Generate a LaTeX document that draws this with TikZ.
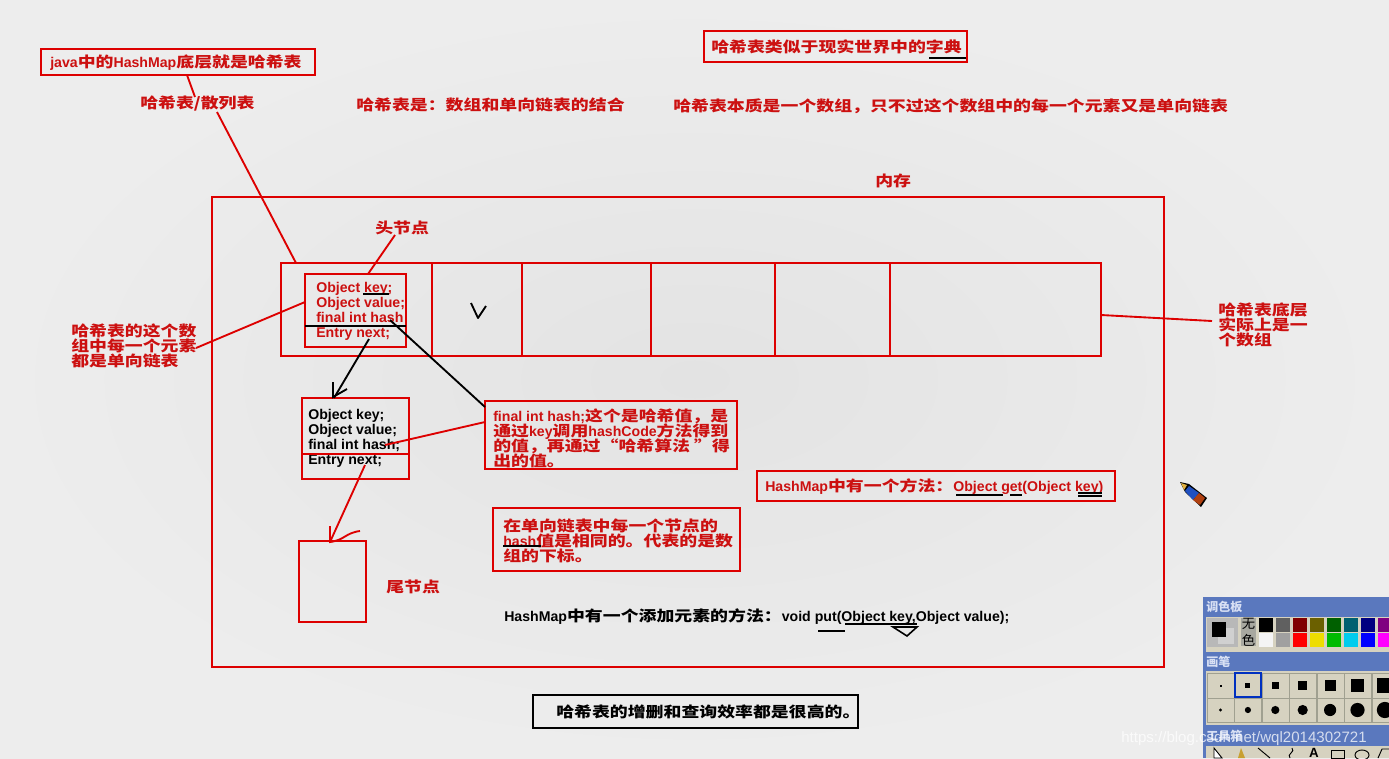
\documentclass[tikz,border=0pt]{standalone}
\usepackage{fontspec}
\setmainfont{Liberation Sans}
\newfontfamily\cjkf[FakeStretch=1.22]{Noto Sans CJK SC}
\newfontfamily\cjkp{Noto Sans CJK SC}
\AtBeginDocument{\lineskiplimit=-8pt\relax}
\newcommand{\cn}[1]{{\cjkf\bfseries\fontsize{11pt}{11.3pt}\selectfont #1}}
\newcommand{\boxn}[6]{\node[#1,minimum width={(#5-#3)*0.75pt},minimum height={(#6-#4)*0.75pt}] (#2) at ({(#3+#5)/2},{(#4+#6)/2}) {};}
\definecolor{rd}{HTML}{DD0000}
\definecolor{rdt}{HTML}{CC1010}
\definecolor{barblue}{HTML}{5A78BE}
\definecolor{panelg}{HTML}{D6D2C0}
\definecolor{bgin}{HTML}{E3E3E3}
\definecolor{bgout}{HTML}{EDEDED}
\definecolor{penb}{HTML}{2050C0}
\definecolor{penc}{HTML}{B04010}
\definecolor{pend}{HTML}{E0B040}
\definecolor{barfg}{HTML}{D8E0F4}
\definecolor{wella}{HTML}{B8B8B8}
\definecolor{wellb}{HTML}{D0D0D0}
\definecolor{wuc}{HTML}{A8A8A0}
\definecolor{gridc}{HTML}{A0A090}
\definecolor{selc}{HTML}{0030C0}
\definecolor{tipc}{HTML}{C8A030}
\tikzset{
  rbox/.style={draw=rd,line width=1.5pt,inner sep=0pt},
  kbox/.style={draw=black,line width=1.5pt,inner sep=0pt},
  rtext/.style={text=rdt,anchor=west,inner sep=0pt,align=left,font=\bfseries\fontsize{10.6pt}{11.3pt}\selectfont},
  ktext/.style={rtext,text=black},
  rline/.style={draw=rd,line width=1.4pt},
  kline/.style={draw=black,line width=1.4pt},
  ul/.style={draw=black,line width=1.3pt},
  bartext/.style={anchor=west,inner sep=0pt,text=barfg,font=\cjkp\bfseries\fontsize{9pt}{10pt}\selectfont},
}
\begin{document}
\begin{tikzpicture}[x=0.75pt,y=-0.75pt]
\useasboundingbox (0,0) rectangle (1389,758);
\shade[inner color=bgin,outer color=bgout] (0,0) rectangle (1389,758);
% boxes
\boxn{rbox}{mem}{212}{197}{1164}{667}
\boxn{rbox}{javabox}{41}{49}{315}{75}
\boxn{rbox}{dictbox}{704}{31}{967}{62}
\boxn{rbox}{c1}{281}{263}{432}{356}
\boxn{rbox}{c2}{432}{263}{522}{356}
\boxn{rbox}{c3}{522}{263}{651}{356}
\boxn{rbox}{c4}{651}{263}{775}{356}
\boxn{rbox}{c5}{775}{263}{890}{356}
\boxn{rbox}{c6}{890}{263}{1101}{356}
\boxn{rbox}{n1}{305}{274}{406}{347}
\boxn{rbox}{n2}{302}{398}{409}{479}
\boxn{rbox}{n3}{299}{541}{366}{622}
\boxn{rbox}{hashbox}{485}{401}{737}{469}
\boxn{rbox}{samebox}{493}{508}{740}{571}
\boxn{rbox}{getbox}{757}{471}{1115}{501}
\boxn{kbox}{effbox}{533}{695}{858}{728}
% texts
\node[rtext] (tjava) at (50,63) {java\cn{中的}HashMap\cn{底层就是哈希表}};
\node[rtext] (tdict) at (711,47) {\cn{哈希表类似于现实世界中的字典}};
\node[rtext] (tsan) at (140,104) {\cn{哈希表/散列表}};
\node[rtext] (tjie) at (356,105) {\cn{哈希表是：数组和单向链表的结合}};
\node[rtext] (tben) at (673,106) {\cn{哈希表本质是一个数组，只不过这个数组中的每一个元素又是单向链表}};
\node[rtext] (tmem) at (875,181) {\cn{内存}};
\node[rtext] (thead) at (375,228) {\cn{头节点}};
\node[rtext] (ttail) at (386,587) {\cn{尾节点}};
\node[rtext] (tleft) at (71,346) {\cn{哈希表的这个数}\\\cn{组中每一个元素}\\\cn{都是单向链表}};
\node[rtext] (tright) at (1218,325) {\cn{哈希表底层}\\\cn{实际上是一}\\\cn{个数组}};
\node[rtext] (tn1) at (316,311) {Object key;\\Object value;\\final int hash\\Entry next;};
\node[ktext] (tn2) at (308,438) {Object key;\\Object value;\\final int hash;\\Entry next;};
\node[rtext] (thash) at (493,438) {final int hash;\cn{这个是哈希值，是}\\\cn{通过}key\cn{调用}hashCode\cn{方法得到}\\\cn{的值，再通过“哈希算法 ”得}\\\cn{出的值。}};
\node[rtext] (tsame) at (503,541) {\cn{在单向链表中每一个节点的}\\hash\cn{值是相同的。代表的是数}\\\cn{组的下标。}};
\node[rtext] (tget) at (765,487) {HashMap\cn{中有一个方法：}Object get(Object key)};
\node[ktext] (tput) at (504,617) {HashMap\cn{中有一个添加元素的方法：}void put(Object key,Object value);};
\node[ktext] (teff) at (556,712) {\cn{哈希表的增删和查询效率都是很高的。}};
% connectors
\coordinate (a1) at (187,75); \coordinate (a2) at (195,97);
\coordinate (a3) at (217,112); \coordinate (a4) at (296,263);
\draw[rline] (a1) -- (a2);
\draw[rline] (a3) -- (a4);
\coordinate (h1) at (395,235); \coordinate (h2) at (368,274);
\draw[rline] (h1) -- (h2);
\coordinate (l1) at (305,302); \coordinate (l2) at (196,348);
\draw[rline] (l1) -- (l2);
\coordinate (r1) at (1101,315); \coordinate (r2) at (1212,321);
\draw[rline] (r1) -- (r2);
\coordinate (k1) at (369,339); \coordinate (k2) at (334,398);
\draw[kline] (k1) -- (k2);
\draw[kline] (333,382) -- (333,397) -- (347,389);
\coordinate (b1) at (390,320); \coordinate (b2) at (485,407);
\draw[kline] (b1) -- (b2);
\coordinate (d1) at (385,445); \coordinate (d2) at (485,422);
\draw[rline] (d1) -- (d2);
\coordinate (e1) at (365,465); \coordinate (e2) at (330,542);
\draw[rline] (e1) -- (e2);
\draw[rline] (330,526) -- (330,542) .. controls (345,540) and (345,533) .. (360,531);
% hand marks
\draw[kline,line join=round] (471,303) -- (478,318) -- (486,306);
\draw[kline] (305,326) -- (406,326);
\draw[rline] (302,454) -- (409,454);
\draw[ul] (363,294) -- (389,294);
\draw[ul] (929,58) -- (966,58);
\draw[ul] (503,546) -- (541,546);
\draw[ul] (956,495) -- (1003,495);
\draw[ul] (1010,495) -- (1022,495);
\draw[ul] (1078,493) -- (1102,493);
\draw[ul] (1078,496) -- (1102,496);
\draw[ul] (818,631) -- (845,631);
\draw[ul] (845,624) -- (917,624);
\draw[black,line width=1.2pt] (893,627) -- (917,627) -- (907,636) -- cycle;
% pencil
\fill[black] (1180,482) -- (1189,484) -- (1207,498) -- (1201,507) -- (1185,492) -- cycle;
\fill[penb] (1189,486) -- (1199,493) -- (1193,500) -- (1185,491) -- cycle;
\fill[penc] (1199,493) -- (1205,498) -- (1200,505) -- (1193,500) -- cycle;
\fill[pend] (1181,483) -- (1187,485) -- (1184,490) -- cycle;
% palette panel
\fill[panelg] (1203,597) rectangle (1389,758);
\fill[barblue] (1203,597) rectangle (1389,617);
\fill[barblue] (1203,652) rectangle (1389,671);
\fill[barblue] (1203,725) rectangle (1389,746);
\fill[barblue] (1203,597) rectangle (1206,758);
\node[bartext] (tpal) at (1206,607) {调色板};
\node[bartext] (tbrush) at (1206,662) {画笔};
\node[bartext] (ttool) at (1206,736) {工具箱};
\fill[wella] (1207,618) rectangle (1238,647);
\fill[wellb] (1218,628) rectangle (1234,644);
\fill[black] (1212,622) rectangle (1226,637);
\fill[wuc] (1241,618) rectangle (1256,646);
\node[anchor=center,inner sep=0pt,align=center,text=black,font=\cjkp\fontsize{10pt}{13pt}\selectfont] (twu) at (1248.5,632) {无\\色};
\foreach \cc [count=\i from 0] in {000000,606060,800000,6B6000,006000,006070,000080,800080}{
  \definecolor{tmpc}{HTML}{\cc}
  \fill[tmpc] ({1259+17*\i},618) rectangle ({1273+17*\i},632);
}
\foreach \cc [count=\i from 0] in {F4F4F4,A0A0A0,FF0000,EEDD00,00BB00,00CCEE,0000FF,FF00FF}{
  \definecolor{tmpc}{HTML}{\cc}
  \fill[tmpc] ({1259+17*\i},633) rectangle ({1273+17*\i},647);
}
% brush grid
\foreach \xx in {1207,1234,1262,1289,1317,1344,1372}{
  \draw[gridc,line width=0.6pt] (\xx,673) rectangle ++(27,25);
  \draw[gridc,line width=0.6pt] (\xx,698) rectangle ++(27,24);
}
\draw[selc,line width=1.3pt] (1235,673) rectangle (1261,697);
\foreach \s [count=\i from 0] in {1,2.5,3.5,4.5,5.5,6.5,7.5}{
  \fill[black] ({1220.5+27.4*\i-\s},{685.5-\s}) rectangle ({1220.5+27.4*\i+\s},{685.5+\s});
  \fill[black] ({1220.5+27.4*\i},710) circle ({(\s+0.6)*0.75pt});
}
% tools
\draw[black,line width=0.7pt,fill=white] (1214,748) -- (1214,758) -- (1222,758) -- cycle;
\fill[tipc] (1241,748) -- (1245,758) -- (1238,758) -- cycle;
\draw[black,line width=0.7pt] (1258,748) -- (1270,758);
\draw[black,line width=0.7pt] (1292,748) .. controls (1296,752) and (1286,754) .. (1290,758);
\node[anchor=north,inner sep=0pt,text=black,font=\bfseries\fontsize{10pt}{10pt}\selectfont] (ta) at (1314,748) {A};
\draw[black,line width=0.7pt] (1331,750) rectangle (1344,758);
\draw[black,line width=0.7pt] (1362,755) ellipse (7 and 5);
\draw[black,line width=0.7pt] (1378,758) -- (1382,749) -- (1389,749);
% watermark
\node[anchor=west,inner sep=0pt,text=white,opacity=0.75,font=\fontsize{11.3pt}{12pt}\selectfont] (twm) at (1121,739) {https://blog.csdn.net/wql2014302721};
\end{tikzpicture}
\end{document}
